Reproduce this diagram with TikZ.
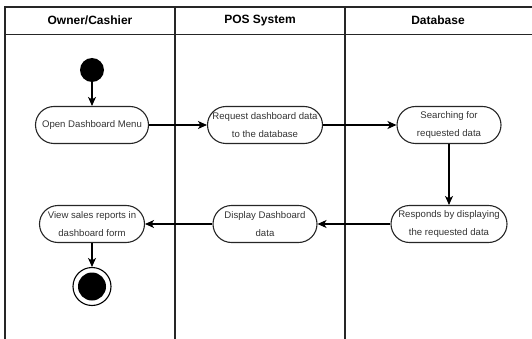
\documentclass[tikz,border=0pt]{standalone}
\usepackage{fontspec}
\setmainfont{Liberation Sans}
\usetikzlibrary{arrows.meta,calc}
\begin{document}
\begin{tikzpicture}[x=1pt,y=-1pt,
  lane/.style={line width=1.1pt,draw=black!85},
  act/.style={draw=black!85,line width=1.1pt,rounded corners=18.5pt,minimum height=37pt,inner sep=0pt,align=center,font=\fontsize{9.6}{17.5}\selectfont,text=black!80},
  hdr/.style={font=\fontsize{12}{14}\selectfont\bfseries},
  flow/.style={line width=1.1pt,-{Stealth[length=9pt,width=8pt,inset=2.5pt]}}]
\useasboundingbox (0,0) rectangle (532,339);
% swimlanes
\draw[lane] (5,339) -- (5,7) -- (533,7);
\draw[lane] (5,34.5) -- (533,34.5);
\draw[lane] (175,7) -- (175,339);
\draw[lane] (345,7) -- (345,339);
\node[hdr] (h1) at (90,20.5) {Owner/Cashier};
\node[hdr] (h2) at (260,20.5) {POS System};
\node[hdr] (h3) at (438,20.5) {Database};
% nodes
\node[circle,fill=black,minimum size=24pt,inner sep=0pt] (start) at (92,70) {};
\node[act,minimum width=113pt] (open) at (92,125) {Open Dashboard Menu};
\node[act,minimum width=115pt] (req) at (265,125) {Request dashboard data\\to the database};
\node[act,minimum width=104pt] (search) at (449,125) {Searching for\\requested data};
\node[act,minimum width=116pt] (resp) at (449,224) {Responds by displaying\\the requested data};
\node[act,minimum width=104pt] (disp) at (265,224) {Display Dashboard\\data};
\node[act,minimum width=105pt] (view) at (92,224) {View sales reports in\\dashboard form};
\node[circle,draw=black,line width=1.1pt,fill=white,minimum size=38pt,inner sep=0pt] (end) at (92,286.5) {};
\node[circle,fill=black,minimum size=28pt,inner sep=0pt] (endin) at (end.center) {};
% flows
\draw[flow] (start) -- (open);
\draw[flow] (open) -- (req);
\draw[flow] (req) -- (search);
\draw[flow] (search) -- (resp);
\draw[flow] (resp) -- (disp);
\draw[flow] (disp) -- (view);
\draw[flow] (view) -- (end);
\end{tikzpicture}
\end{document}
